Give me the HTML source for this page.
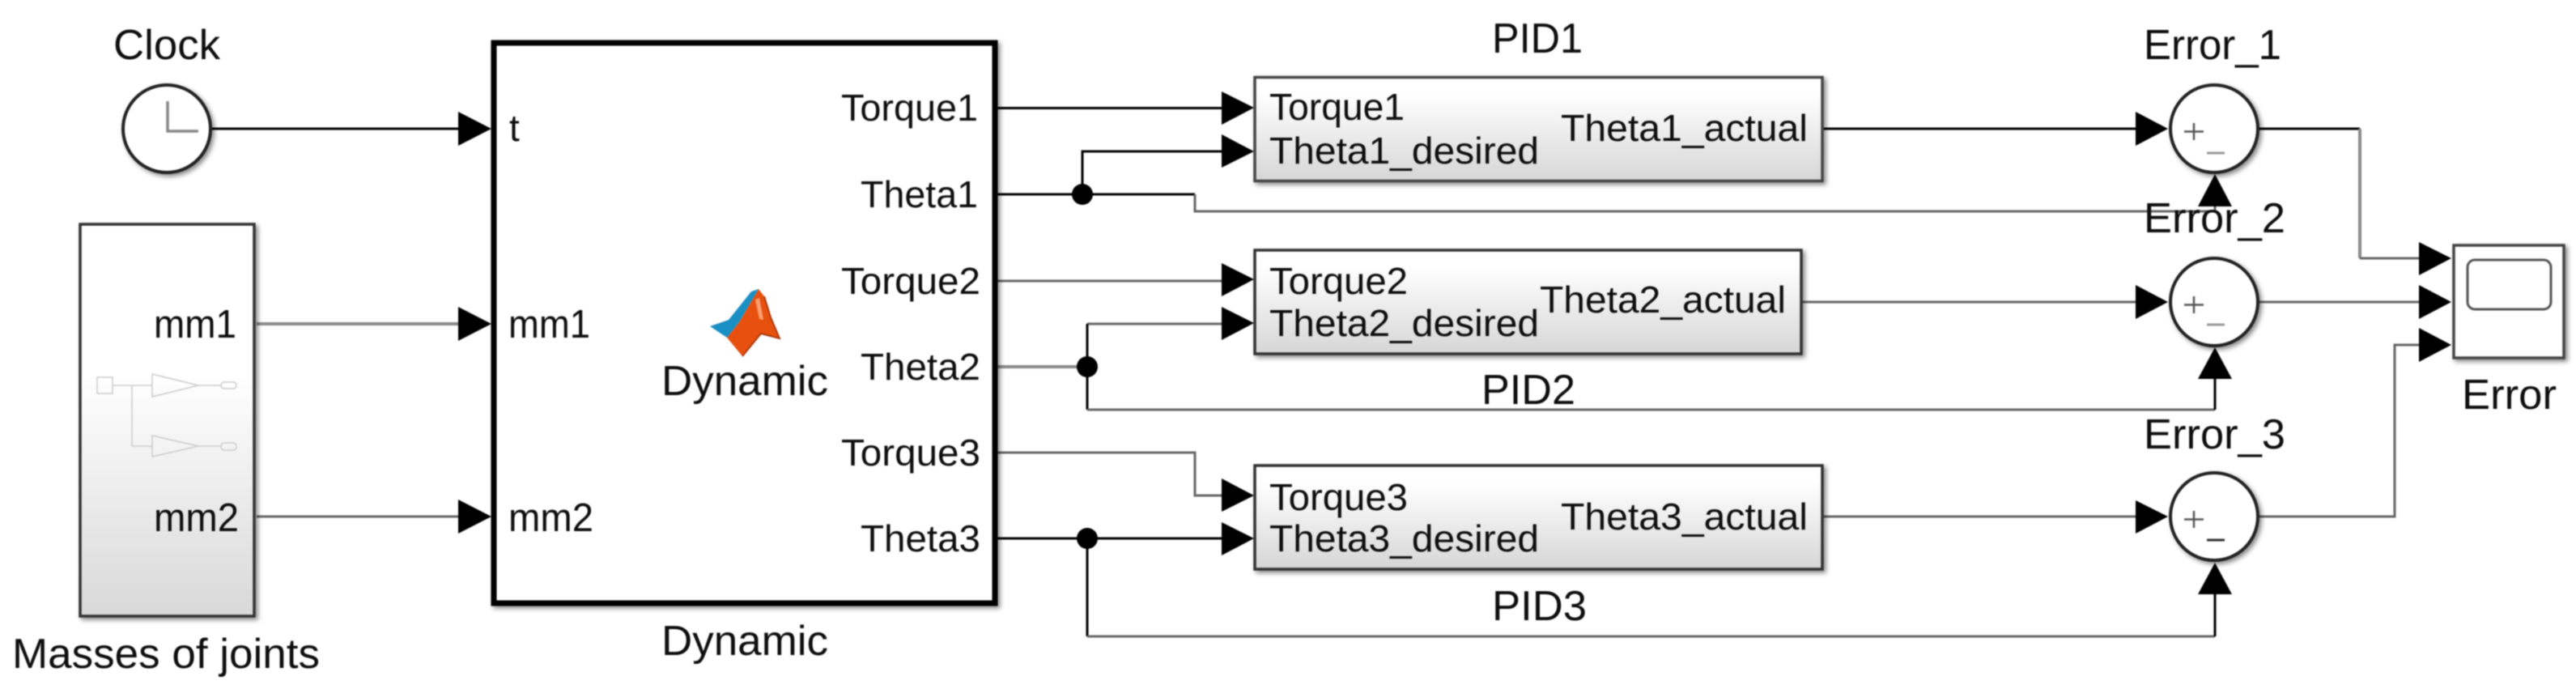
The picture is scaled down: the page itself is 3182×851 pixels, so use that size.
<!DOCTYPE html>
<html><head><meta charset="utf-8"><style>
html,body{margin:0;padding:0;background:#fff;width:3182px;height:851px;overflow:hidden}
svg{display:block;filter:blur(0.8px)}
text{font-family:"Liberation Sans",Arial,sans-serif;fill:#0d0d0d}
.l{font-size:52px}.p{font-size:46px}.m{font-size:49px}
.w{fill:none;stroke:#000;stroke-width:3}
.g{fill:none;stroke:#666;stroke-width:3}
.h{fill:none;stroke:#8a8a8a;stroke-width:4}
.ic{fill:none;stroke:#ccc;stroke-width:1.5}
</style></head><body>
<svg width="3182" height="851" viewBox="0 0 3182 851" xmlns="http://www.w3.org/2000/svg">
<defs>
<filter id="s" x="-10%" y="-10%" width="125%" height="125%"><feDropShadow dx="3" dy="3" stdDeviation="3" flood-color="#000" flood-opacity=".45"/></filter>
<linearGradient id="gm" x1="0" y1="0" x2="0" y2="1"><stop offset=".38" stop-color="#fff"/><stop offset="1" stop-color="#d8d8d8"/></linearGradient>
<linearGradient id="gp" x1="0" y1="0" x2="0" y2="1"><stop offset=".15" stop-color="#fff"/><stop offset="1" stop-color="#d6d6d6"/></linearGradient>
</defs>

<!-- wires -->
<path class="w" d="M262 159H570"/>
<path class="h" d="M317 400H570"/>
<path class="g" d="M317 638H570"/>
<path class="w" d="M1232 133.500H1512"/>
<path class="w" d="M1232 240H1476"/>
<path class="g" d="M1476 240V261H2736V250"/>
<path class="w" d="M1337 240V187H1512"/>
<path class="g" d="M1232 347H1512"/>
<path class="h" d="M1232 453H1343"/>
<path class="g" d="M1343 400H1512"/>
<path class="w" d="M1343 400V506"/>
<path class="g" d="M1343 506H2736"/>
<path class="w" d="M2736 506V465"/>
<path class="g" d="M1232 559H1476V612H1512"/>
<path class="w" d="M1232 665H1512"/>
<path class="w" d="M1343 665V786"/>
<path class="g" d="M1343 786H2736"/>
<path class="w" d="M2736 786V730"/>
<path class="w" d="M2252 159H2642"/>
<path class="g" d="M2226 373H2642"/>
<path class="g" d="M2252 638H2642"/>
<path class="w" d="M2790 159H2915"/>
<path class="h" d="M2915 159V319"/>
<path class="g" d="M2915 319H2992"/>
<path class="g" d="M2790 373H2992"/>
<path class="g" d="M2790 638H2958V426H2992"/>

<!-- junctions -->
<circle cx="1337" cy="240" r="13"/>
<circle cx="1343" cy="453" r="13"/>
<circle cx="1343" cy="665" r="13"/>

<!-- clock -->
<circle cx="206" cy="159" r="54" fill="#fff" stroke="#222" stroke-width="4" filter="url(#s)"/>
<path d="M207 125V162H245" fill="none" stroke="#888" stroke-width="3.500"/>
<text class="l" x="140" y="73" textLength="132" lengthAdjust="spacingAndGlyphs">Clock</text>

<!-- masses -->
<rect x="99" y="277" width="215" height="484" fill="url(#gm)" stroke="#333" stroke-width="3.500" filter="url(#s)"/>
<text class="m" x="190" y="417" textLength="102" lengthAdjust="spacingAndGlyphs">mm1</text>
<text class="m" x="190" y="656" textLength="105" lengthAdjust="spacingAndGlyphs">mm2</text>
<rect class="ic" x="120" y="466" width="19" height="20"/>
<path class="ic" d="M139 476H188M163 476V551H188M245 476H273M245 551H273"/>
<polygon class="ic" points="188,462 245,476 188,490"/>
<polygon class="ic" points="188,538 245,551 188,564"/>
<rect class="ic" x="273" y="472" width="19" height="8" rx="4"/>
<rect class="ic" x="273" y="547" width="19" height="9" rx="4"/>
<text class="l" x="15" y="825" textLength="380" lengthAdjust="spacingAndGlyphs">Masses of joints</text>

<!-- dynamic -->
<rect x="610" y="53" width="619" height="692" fill="#fff" stroke="#000" stroke-width="7" filter="url(#s)"/>
<text class="p" x="629" y="174">t</text>
<text class="m" x="628" y="417" textLength="101" lengthAdjust="spacingAndGlyphs">mm1</text>
<text class="m" x="628" y="656" textLength="105" lengthAdjust="spacingAndGlyphs">mm2</text>
<text class="p" x="1039" y="149" textLength="169" lengthAdjust="spacingAndGlyphs">Torque1</text>
<text class="p" x="1063" y="256" textLength="145" lengthAdjust="spacingAndGlyphs">Theta1</text>
<text class="p" x="1039" y="363" textLength="172" lengthAdjust="spacingAndGlyphs">Torque2</text>
<text class="p" x="1063" y="469" textLength="148" lengthAdjust="spacingAndGlyphs">Theta2</text>
<text class="p" x="1039" y="575" textLength="172" lengthAdjust="spacingAndGlyphs">Torque3</text>
<text class="p" x="1063" y="681" textLength="148" lengthAdjust="spacingAndGlyphs">Theta3</text>
<text class="l" x="817" y="488" textLength="206" lengthAdjust="spacingAndGlyphs">Dynamic</text>
<text class="l" x="817" y="809" textLength="206" lengthAdjust="spacingAndGlyphs">Dynamic</text>
<!-- matlab logo -->
<polygon points="877,403 900,395 928,360 937,357 913,398 898,417" fill="#1a8fc4"/>
<polygon points="937,357 944,366 952,392 963,418 940,412 917,440 898,417 913,398" fill="#e8500f"/>
<path d="M944 366L952 392L963 418L940 412L917 440" fill="none" stroke="#a83a0c" stroke-width="2"/>
<polygon points="933,370 938,368 943,395 938,394" fill="#f8a070"/>

<!-- PID -->
<rect x="1550" y="95.500" width="701" height="128" fill="url(#gp)" stroke="#444" stroke-width="3.500" filter="url(#s)"/>
<rect x="1550" y="309" width="675" height="128" fill="url(#gp)" stroke="#333" stroke-width="3.500" filter="url(#s)"/>
<rect x="1550" y="575" width="701" height="128" fill="url(#gp)" stroke="#333" stroke-width="3.500" filter="url(#s)"/>
<text class="p" x="1568" y="148" textLength="167" lengthAdjust="spacingAndGlyphs">Torque1</text>
<text class="p" x="1568" y="202" textLength="333" lengthAdjust="spacingAndGlyphs">Theta1_desired</text>
<text class="p" x="1928" y="174" textLength="305" lengthAdjust="spacingAndGlyphs">Theta1_actual</text>
<text class="p" x="1568" y="363" textLength="171" lengthAdjust="spacingAndGlyphs">Torque2</text>
<text class="p" x="1568" y="415" textLength="333" lengthAdjust="spacingAndGlyphs">Theta2_desired</text>
<text class="p" x="1902" y="386" textLength="304" lengthAdjust="spacingAndGlyphs">Theta2_actual</text>
<text class="p" x="1568" y="630" textLength="171" lengthAdjust="spacingAndGlyphs">Torque3</text>
<text class="p" x="1568" y="681" textLength="333" lengthAdjust="spacingAndGlyphs">Theta3_desired</text>
<text class="p" x="1928" y="654" textLength="305" lengthAdjust="spacingAndGlyphs">Theta3_actual</text>
<text class="l" x="1843" y="65" textLength="112" lengthAdjust="spacingAndGlyphs">PID1</text>
<text class="l" x="1830" y="499" textLength="116" lengthAdjust="spacingAndGlyphs">PID2</text>
<text class="l" x="1843" y="766" textLength="117" lengthAdjust="spacingAndGlyphs">PID3</text>

<!-- sums -->
<circle cx="2735" cy="159" r="54" fill="#fff" stroke="#222" stroke-width="4" filter="url(#s)"/>
<circle cx="2735" cy="373" r="54" fill="#fff" stroke="#222" stroke-width="4" filter="url(#s)"/>
<circle cx="2735" cy="638" r="54" fill="#fff" stroke="#222" stroke-width="4" filter="url(#s)"/>
<path d="M2698 162.500H2722M2710 152V173M2698 376.500H2722M2710 366V387M2698 641.500H2722M2710 631V652" fill="none" stroke="#555" stroke-width="2.500"/>
<path d="M2726 189H2748M2726 401H2748" fill="none" stroke="#999" stroke-width="3"/>
<path d="M2726 667H2748" fill="none" stroke="#333" stroke-width="3"/>
<text class="l" x="2648" y="73" textLength="170" lengthAdjust="spacingAndGlyphs">Error_1</text>
<text class="l" x="2648" y="287" textLength="175" lengthAdjust="spacingAndGlyphs">Error_2</text>
<text class="l" x="2648" y="554" textLength="175" lengthAdjust="spacingAndGlyphs">Error_3</text>

<!-- scope -->
<rect x="3031" y="303" width="136" height="139" fill="#fff" stroke="#444" stroke-width="3.500" filter="url(#s)"/>
<rect x="3048" y="321" width="103" height="61" rx="9" fill="#fff" stroke="#555" stroke-width="3"/>
<text class="l" x="3041" y="505" textLength="117" lengthAdjust="spacingAndGlyphs">Error</text>

<!-- arrowheads -->
<g fill="#000">
<polygon points="566,138 607,159 566,180"/>
<polygon points="566,379 607,400 566,421"/>
<polygon points="566,617 607,638 566,659"/>
<polygon points="1509,113 1549,133 1509,154"/>
<polygon points="1509,166 1549,187 1509,207"/>
<polygon points="1509,325 1549,345 1509,366"/>
<polygon points="1509,379 1549,399 1509,420"/>
<polygon points="1509,591 1549,612 1509,632"/>
<polygon points="1509,645 1549,665 1509,686"/>
<polygon points="2638,138 2678,159 2638,180"/>
<polygon points="2638,352 2678,373 2638,394"/>
<polygon points="2638,618 2678,638 2638,659"/>
<polygon points="2715,255 2736,215 2757,255"/>
<polygon points="2715,468 2736,429 2757,468"/>
<polygon points="2715,734 2736,695 2757,734"/>
<polygon points="2988,299 3028,319 2988,340"/>
<polygon points="2988,352 3028,373 2988,394"/>
<polygon points="2988,405 3028,426 2988,447"/>
</g>
</svg>
</body></html>
